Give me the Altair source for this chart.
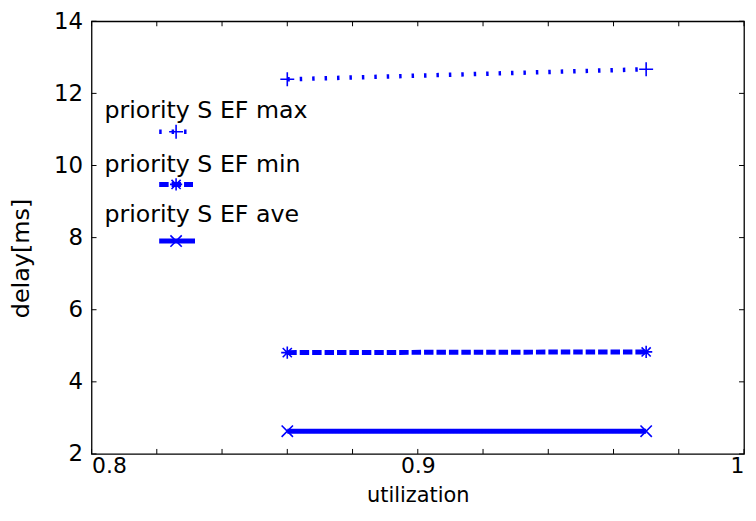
import altair as alt
import pandas as pd

# ---- data ----
utilization = [0.86, 0.97]
delay_max = [12.39, 12.67]
delay_min = [4.81, 4.83]
delay_ave = [2.63, 2.63]
series_names = ["priority S EF max", "priority S EF min", "priority S EF ave"]
x_ticks = [0.80, 0.82, 0.84, 0.86, 0.88, 0.90, 0.92, 0.94, 0.96, 0.98, 1.00]
x_labels = [0.8, 0.9, 1.0]
y_ticks = [2, 4, 6, 8, 10, 12, 14]

W, H = 656, 435
FONT = "DejaVu Sans"
BLUE = "#0000ff"

xs = alt.Scale(domain=[0.8, 1.0], nice=False, zero=False)
ys = alt.Scale(domain=[2, 14], nice=False, zero=False)

PLUS = "M-1,0L1,0M0,-1L0,1"
CROSS = "M-1,-1L1,1M-1,1L1,-1"
STAR = "M-1,0L1,0M0,-1L0,1M-0.75,-0.75L0.75,0.75M-0.75,0.75L0.75,-0.75"

styles = [
    dict(dash=[2.5, 10], width=4.5, shape=PLUS, size=196),
    dict(dash=[9.5, 3], width=5, shape=STAR, size=150),
    dict(dash=[1, 0], width=5, shape=CROSS, size=130),
]
series_values = [delay_max, delay_min, delay_ave]

x_axis = alt.Axis(values=x_labels, format="~g", labelPadding=2, tickSize=0, labelFontSize=22,
                  title="utilization", titleFontSize=21, titleX=W / 2, titleY=48,
                  titleBaseline="alphabetic", labelOverlap=False)
y_axis = alt.Axis(values=y_ticks, labelPadding=9, tickSize=0, labelFontSize=23,
                  title="delay[ms]", titleFontSize=24, titleX=-70, titleY=238,
                  titleAngle=270, titleBaseline="middle", titleAlign="center")


def X(field):
    return alt.X(field, scale=xs, axis=x_axis)


def Y(field):
    return alt.Y(field, scale=ys, axis=y_axis)


layers = []

# frame ticks (inward)
dxt = pd.DataFrame({"x": x_ticks})
dyt = pd.DataFrame({"y": y_ticks})
layers.append(alt.Chart(dxt).mark_rule(color="black", strokeWidth=1).encode(
    x=X("x:Q"), y=alt.value(H), y2=alt.value(H - 5)))
layers.append(alt.Chart(dxt).mark_rule(color="black", strokeWidth=1).encode(
    x=X("x:Q"), y=alt.value(0), y2=alt.value(5)))
layers.append(alt.Chart(dyt).mark_rule(color="black", strokeWidth=1).encode(
    y=Y("y:Q"), x=alt.value(0), x2=alt.value(5)))
layers.append(alt.Chart(dyt).mark_rule(color="black", strokeWidth=1).encode(
    y=Y("y:Q"), x=alt.value(W), x2=alt.value(W - 5)))

# series
for name, vals, st in zip(series_names, series_values, styles):
    df = pd.DataFrame({"utilization": utilization, "delay": vals, "series": name})
    enc = dict(x=X("utilization:Q"), y=Y("delay:Q"))
    layers.append(alt.Chart(df).mark_line(color=BLUE, strokeWidth=st["width"],
                                          strokeDash=st["dash"]).encode(**enc))
    layers.append(alt.Chart(df).mark_point(shape=st["shape"], size=st["size"], filled=False,
                                           color=BLUE, strokeWidth=1.6, opacity=1).encode(**enc))

# legend (MATLAB style, no box)
dummy = alt.Data(values=[{"k": 1}])
leg_text_y = [97, 152, 202]
leg_line_y = [111, 164, 221]
leg_line_x2 = [97, 102, 104]
for name, st, ty, ly, lx2 in zip(series_names, styles, leg_text_y, leg_line_y, leg_line_x2):
    layers.append(alt.Chart(dummy).mark_text(text=name, align="left", baseline="alphabetic",
                                             font=FONT, fontSize=23.8, color="black").encode(
        x=alt.value(13), y=alt.value(ty)))
    layers.append(alt.Chart(dummy).mark_rule(color=BLUE, strokeWidth=st["width"],
                                             strokeDash=st["dash"]).encode(
        x=alt.value(68), x2=alt.value(lx2), y=alt.value(ly)))
    layers.append(alt.Chart(dummy).mark_point(shape=st["shape"], size=st["size"], filled=False,
                                              color=BLUE, strokeWidth=1.6, opacity=1).encode(
        x=alt.value(85), y=alt.value(ly)))

chart = alt.layer(*layers).properties(
    width=W, height=H,
    autosize=alt.AutoSizeParams(type="none"),
    padding={"left": 84, "top": 12, "right": 4, "bottom": 53},
).configure_view(stroke="black", strokeWidth=1.3).configure_axis(
    domain=False, ticks=False, grid=False,
    labelFont=FONT, labelColor="black",
    titleFont=FONT, titleFontWeight="normal", titleColor="black",
)

chart.save("out.html", embed_options={"renderer": "svg", "actions": False})
